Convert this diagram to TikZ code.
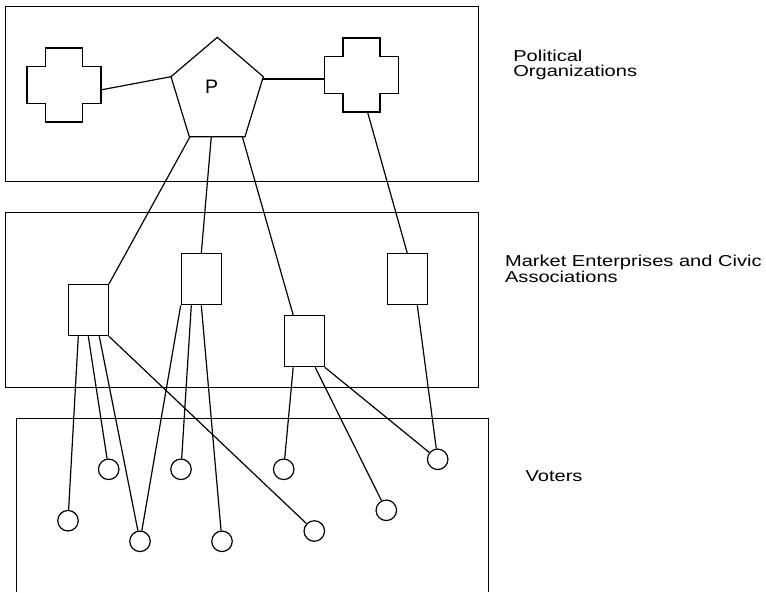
\documentclass[tikz,border=0pt]{standalone}
\usepackage{tikz}
\usepackage{fontspec}
\setmainfont{Liberation Sans}
\newfontfamily\labelfont[FakeStretch=1.27]{Liberation Sans}

\tikzset{
  layer/.style={draw, inner sep=0pt},
  org/.style={draw, minimum width=40pt, minimum height=51pt, inner sep=0pt},
  voter/.style={circle, draw, minimum size=20.5pt, inner sep=0pt},
  tag/.style={anchor=north west, inner sep=0pt, align=left,
    font=\labelfont\fontsize{15.8pt}{15.5pt}\selectfont},
  plusbox/.pic={
    \node[minimum size=74pt, inner sep=0pt, outer sep=0pt] (-box) {};
    \draw (-18.5,-37) -- (18.5,-37) -- (18.5,-18.5) -- (37,-18.5) -- (37,18.5)
      -- (18.5,18.5) -- (18.5,37) -- (-18.5,37) -- (-18.5,18.5) -- (-37,18.5)
      -- (-37,-18.5) -- (-18.5,-18.5) -- cycle;
  }
}

\begin{document}
\begin{tikzpicture}[x=1pt, y=-1pt, line width=1.2pt]
        \useasboundingbox (0,0) rectangle (766,592);
        \fill[white] (0,0) rectangle (766,592);

        % Layers
        \node[layer, minimum width=472.6pt, minimum height=175pt] (polit) at (242,94.2) {};
        \node[layer, minimum width=472.6pt, minimum height=174.6pt] (market) at (242,300) {};
        \draw (16.7,592) |- (488.3,418.3) -- (488.3,592);

        \node[tag] (politlabel) at (512.7,49.2) {Political\\Organizations};
        \node[tag] (marketlabel) at (504.5,254.5) {Market Enterprises and Civic\\Associations};
        \node[tag] (voterlabel) at (525,470.4) {Voters};

        % Pieces
        \coordinate (pt) at (217.3,37.3);
        \coordinate (pr) at (263.3,76.7);
        \coordinate (pbr) at (245,136.7);
        \coordinate (pbl) at (189.3,136.7);
        \coordinate (pl) at (171,76.7);
        \draw (pt) -- (pr) -- (pbr) -- (pbl) -- (pl) -- cycle;
        \node[font=\fontsize{19.5pt}{20pt}\selectfont] (P) at (211.7,86.3) {P};
        \coordinate (pe) at (262.6,79);
        \coordinate (p1) at (190,136.7);
        \coordinate (p2) at (211.3,136.7);
        \coordinate (p3) at (242.3,136.7);

        \pic (lc) at (63.9,84.9) {plusbox};
        \pic (rc) at (361.5,74.9) {plusbox};

        \node[org] (B1) at (88.3,310.2) {};
        \node[org] (B2) at (201.3,279.3) {};
        \node[org] (B3) at (304.2,341.2) {};
        \node[org] (B4) at (407.3,279.3) {};

        \node[voter] (C1) at (68,520.7) {};
        \node[voter] (C2) at (108.7,469.3) {};
        \node[voter] (C3) at (140,541.3) {};
        \node[voter] (C4) at (181,469.3) {};
        \node[voter] (C5) at (222,541.3) {};
        \node[voter] (C6) at (283.7,469.3) {};
        \node[voter] (C7) at (314.3,531) {};
        \node[voter] (C8) at (386.3,510.3) {};
        \node[voter] (C9) at (437.7,459.3) {};

        % Links
        \draw (pl) -- ([yshift=-5pt]lc-box.east);
        \draw (pe) -- ([yshift=-4.1pt]rc-box.west);
        \draw ([xshift=6pt]rc-box.south) -- (B4.north);
        \draw (p1) -- (B1.north east);
        \draw (p2) -- (B2.north);
        \draw (p3) -- ([xshift=-11pt]B3.north);

        \draw ([xshift=-10pt]B1.south) -- (C1);
        \draw (B1.south) -- (C2);
        \draw ([xshift=11pt]B1.south) -- (C3);
        \draw (B1.south east) -- (C7);
        \draw (B2.south west) -- (C3);
        \draw ([xshift=-10pt]B2.south) -- (C4);
        \draw (B2.south) -- (C5);
        \draw ([xshift=-11pt]B3.south) -- (C6);
        \draw ([xshift=11pt]B3.south) -- (C8);
        \draw (B3.south east) -- (C9);
        \draw ([xshift=10pt]B4.south) -- (C9);
    \end{tikzpicture}
\end{document}
